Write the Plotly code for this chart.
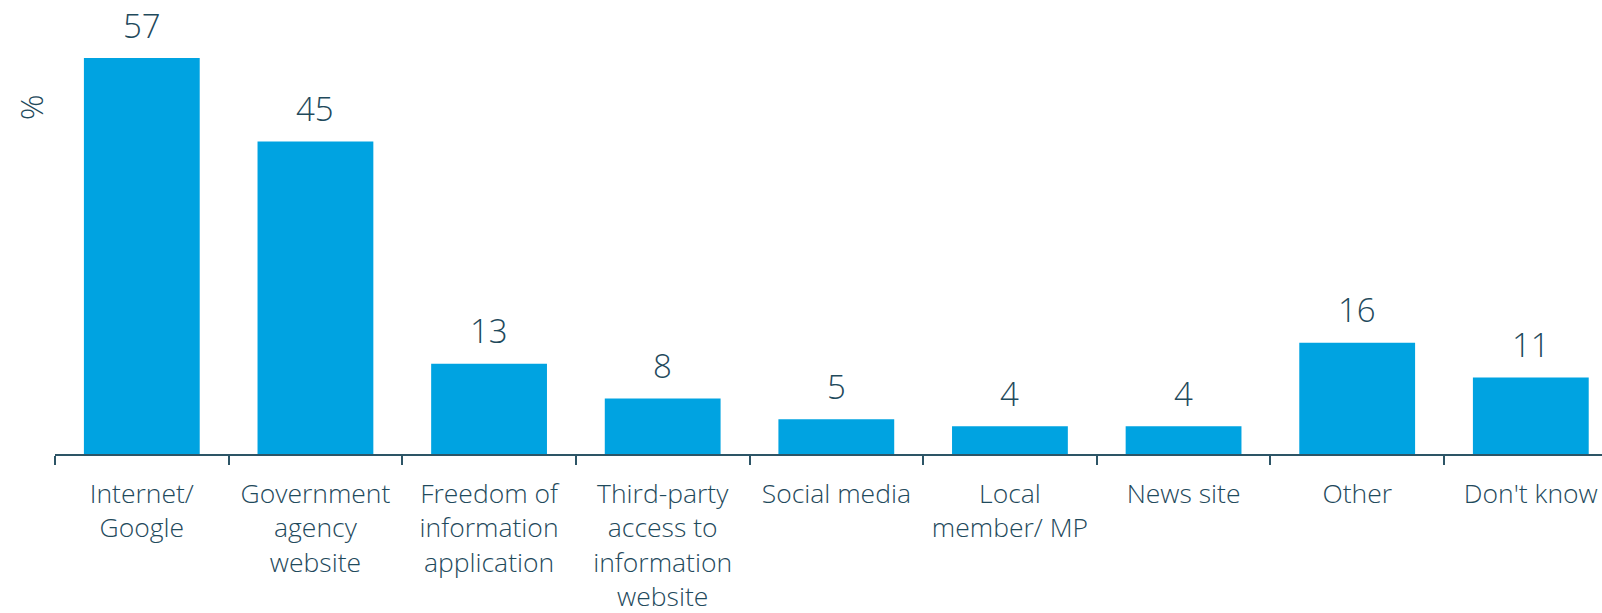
import plotly.graph_objects as go

categories = [
    "Internet/<br>Google",
    "Government<br>agency<br>website",
    "Freedom of<br>information<br>application",
    "Third-party<br>access to<br>information<br>website",
    "Social media",
    "Local<br>member/ MP",
    "News site",
    "Other",
    "Don't know",
]
values = [57, 45, 13, 8, 5, 4, 4, 16, 11]

bar_color = "#00A3E1"
text_color = "#1F4A5C"
font_family = "Open Sans"

fig = go.Figure()
fig.add_trace(go.Bar(
    x=categories,
    y=values,
    marker=dict(color=bar_color, line=dict(width=0)),
    width=0.667,
    hoverinfo="skip",
))

# value labels above bars
for cat, val in zip(categories, values):
    fig.add_annotation(
        x=cat, y=val, text=str(val), showarrow=False,
        yanchor="middle", yshift=33,
        font=dict(family=font_family, size=33, color=text_color, weight=300),
    )

fig.add_annotation(
    xref="paper", yref="paper", x=-25 / 1547, y=0.764,
    text="%", textangle=-90, showarrow=False,
    xanchor="center", yanchor="middle",
    font=dict(family=font_family, size=32, color=text_color, weight=300),
)

fig.update_layout(
    width=1602,
    height=613,
    margin=dict(l=55, r=0, t=0, b=159, autoexpand=False),
    plot_bgcolor="white",
    paper_bgcolor="white",
    showlegend=False,
    font=dict(family=font_family, color=text_color),
    xaxis=dict(
        type="category",
        range=[-0.5, 8.41],
        automargin=False,
        showline=True,
        linecolor="#2D5566",
        linewidth=2,
        ticks="outside",
        tickson="boundaries",
        ticklen=9,
        tickwidth=2,
        tickcolor="#2D5566",
        ticklabelstandoff=15,
        tickfont=dict(family=font_family, size=26.5, color=text_color, weight=300),
        showgrid=False,
        fixedrange=True,
    ),
    yaxis=dict(
        range=[0, 65.35],
        visible=False,
        automargin=False,
        showgrid=False,
        fixedrange=True,
    ),
)

# drop the default page margin so the figure sits at the window's corner
fig.write_html(
    "out.html",
    config={"displayModeBar": False},
    post_script="document.body.style.margin='0';",
)
